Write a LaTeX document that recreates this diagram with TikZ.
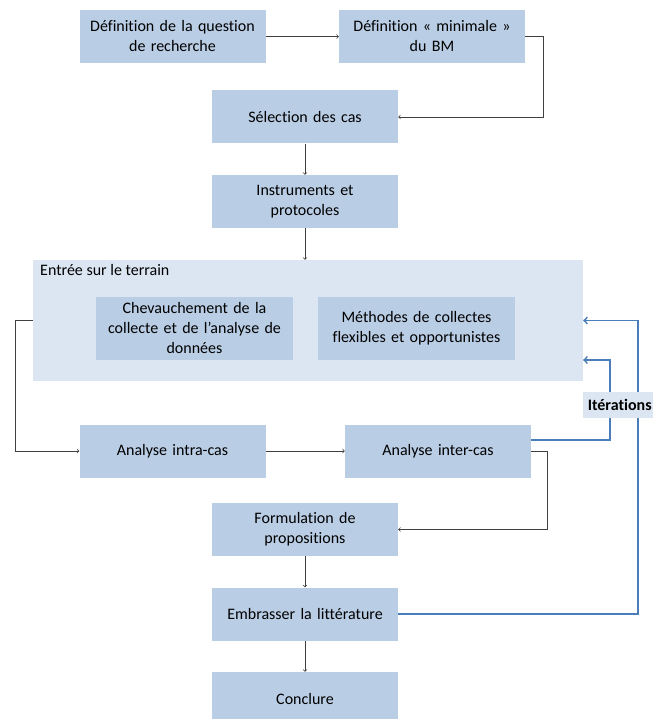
\documentclass[tikz,border=0pt]{standalone}
\usepackage{fontspec}
\setmainfont{Carlito}[Ligatures=NoCommon]
\usepackage{tikz}
\usetikzlibrary{arrows, positioning}
\definecolor{boxblue}{HTML}{B9CDE5}
\definecolor{paleblue}{HTML}{DCE6F2}
\definecolor{iterblue}{HTML}{4A7EBB}
\definecolor{linegray}{HTML}{404040}
\tikzstyle{block} = [fill=boxblue, rectangle, inner sep=0pt,
    minimum height=53pt, minimum width=186pt, text width=184pt, align=center]
\tikzstyle{inblock} = [block, minimum height=63pt, minimum width=197pt, text width=196pt]
\tikzstyle{conn} = [draw=linegray, ->, >=to, line width=0.7pt]
\tikzstyle{iterline} = [draw=iterblue, ->, >=to, line width=1.8pt]

\begin{document}
\begin{tikzpicture}[x=1pt, y=1pt, font=\fontsize{16}{20}\selectfont]
        \useasboundingbox (0,0) rectangle (653,-719);
        \node[block] at (172.5,-36.5) (defQ) {Définition de la question\\de recherche};
        \node[block] at (432,-36.5) (defBM) {Définition « minimale »\\du BM};
        \node[block] at (305,-117) (select) {Sélection des cas};
        \node[block] at (305,-201.5) (instr) {Instruments et\\protocoles};
        \node[fill=paleblue, minimum width=550pt, minimum height=121pt] at (308,-320.5) (terrain) {};
        \node[anchor=north west, inner sep=0pt] at (40,-264) (terrainlbl) {Entrée sur le terrain};
        \node[inblock] at (194.5,-328.5) (chev) {Chevauchement de la\\collecte et de l’analyse de\\données};
        \node[inblock] at (416.5,-328.5) (meth) {Méthodes de collectes\\flexibles et opportunistes};
        \node[block] at (172.5,-451) (intra) {Analyse intra-cas};
        \node[block] at (438,-451) (inter) {Analyse inter-cas};
        \node[block] at (305,-529.5) (form) {Formulation de\\propositions};
        \node[block] at (305,-614) (embr) {Embrasser la littérature};
        \node[block] at (305,-698.5) (concl) {Conclure};

        \draw[conn] (defQ) -- (defBM);
        \draw[conn] (defBM.east) -- ++(18,0) |- (select.east);
        \draw[conn] (select) -- (instr);
        \draw[conn] (instr.south) -- (instr.south |- terrain.north);
        \draw[conn] (terrain.west) -- ++(-17,0) |- (intra.west);
        \draw[conn] (intra) -- (inter);
        \draw[conn] (inter.east) -- ++(16,0) |- (form.east);
        \draw[conn] (form) -- (embr);
        \draw[conn] (embr) -- (concl);
        \draw[iterline] ([yshift=11pt]inter.east) -- ++(79,0) |- ([yshift=-39.5pt]terrain.east);
        \draw[iterline] (embr.east) -- ++(240,0) |- (terrain.east);
        \node[fill=paleblue, minimum width=70pt, minimum height=26pt, inner sep=0pt, anchor=west] at (583,-405) (iter) {\hspace{3pt}\textbf{Itérations}};
    \end{tikzpicture}
\end{document}
